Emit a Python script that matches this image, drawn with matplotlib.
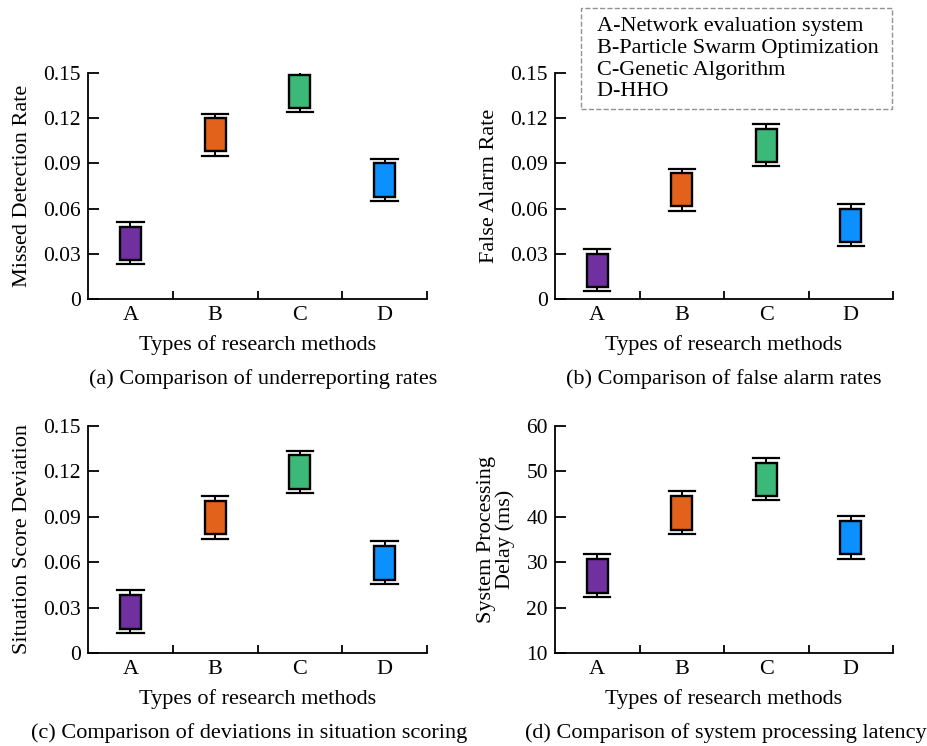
import matplotlib
matplotlib.use('Agg')
import matplotlib.pyplot as plt
from matplotlib.lines import Line2D

# =========================================================
# font
# =========================================================
plt.rcParams['font.family'] = ['Liberation Serif', 'DejaVu Serif']
plt.rcParams['axes.linewidth'] = 1.3

# =========================================================
# data
# =========================================================
methods = ['A', 'B', 'C', 'D']
colors = ['#7030A0', '#E2621B', '#3CB878', '#0A91FF']

# (a) missed detection rate
miss_lo = [0.023, 0.095, 0.124, 0.065]
miss_q1 = [0.026, 0.098, 0.127, 0.068]
miss_q3 = [0.048, 0.120, 0.149, 0.090]
miss_hi = [0.051, 0.123, 0.152, 0.093]

# (b) false alarm rate
fa_lo = [0.005, 0.0585, 0.088, 0.035]
fa_q1 = [0.008, 0.0614, 0.091, 0.038]
fa_q3 = [0.030, 0.0835, 0.113, 0.060]
fa_hi = [0.0334, 0.0866, 0.116, 0.063]

# (c) situation score deviation
dev_lo = [0.0132, 0.0754, 0.1054, 0.0459]
dev_q1 = [0.0159, 0.0785, 0.1083, 0.0485]
dev_q3 = [0.0382, 0.1006, 0.1306, 0.0708]
dev_hi = [0.0415, 0.1037, 0.1337, 0.0739]

# (d) system processing delay (ms)
lat_lo = [22.3, 36.2, 43.6, 30.7]
lat_q1 = [23.2, 37.2, 44.6, 31.7]
lat_q3 = [30.6, 44.6, 51.9, 39.1]
lat_hi = [31.7, 45.7, 52.9, 40.1]

legend_labels = ['A-Network evaluation system',
                 'B-Particle Swarm Optimization',
                 'C-Genetic Algorithm',
                 'D-HHO']

panels = [
    (miss_lo, miss_q1, miss_q3, miss_hi, 'Missed Detection Rate',
     (0, 0.15), [0, 0.03, 0.06, 0.09, 0.12, 0.15],
     '(a) Comparison of underreporting rates'),
    (fa_lo, fa_q1, fa_q3, fa_hi, 'False Alarm Rate',
     (0, 0.15), [0, 0.03, 0.06, 0.09, 0.12, 0.15],
     '(b) Comparison of false alarm rates'),
    (dev_lo, dev_q1, dev_q3, dev_hi, 'Situation Score Deviation',
     (0, 0.15), [0, 0.03, 0.06, 0.09, 0.12, 0.15],
     '(c) Comparison of deviations in situation scoring'),
    (lat_lo, lat_q1, lat_q3, lat_hi, 'System Processing\nDelay (ms)',
     (10, 60), [10, 20, 30, 40, 50, 60],
     '(d) Comparison of system processing latency'),
]

# =========================================================
# figure
# =========================================================
W, H = 927, 746
fig = plt.figure(figsize=(W / 100, H / 100), dpi=100)

# axes boxes in pixels: left, top, right, bottom
boxes = [(88, 73, 427, 299), (555, 73, 893, 299),
         (88, 426, 427, 653), (555, 426, 893, 653)]
# caption centre shift (px)
cap_shift = [6, 0, -8, 2]

positions = [0.5, 1.5, 2.5, 3.5]

for (lo, q1, q3, hi, ylab, ylim, yticks, caption), (l, t, r, b), dx in zip(panels, boxes, cap_shift):
    ax = fig.add_axes([l / W, 1 - b / H, (r - l) / W, (b - t) / H])

    stats = []
    for i in range(len(methods)):
        stats.append({'whislo': lo[i], 'q1': q1[i], 'med': q1[i],
                      'q3': q3[i], 'whishi': hi[i], 'fliers': []})

    bp = ax.bxp(stats, positions=positions, widths=0.25, capwidths=0.31,
                patch_artist=True, showfliers=False,
                boxprops=dict(linewidth=1.7, edgecolor='black'),
                whiskerprops=dict(linewidth=1.4, color='black'),
                capprops=dict(linewidth=1.6, color='black'),
                medianprops=dict(linewidth=0))
    for patch, c in zip(bp['boxes'], colors):
        patch.set_facecolor(c)

    ax.set_xlim(0, 4)
    ax.set_ylim(*ylim)
    ax.set_yticks(yticks)
    ax.set_yticklabels(['0' if v == 0 else (f'{v:.2f}' if ylim[1] < 1 else f'{v:g}') for v in yticks])

    ax.set_xticks([1, 2, 3, 4])
    ax.set_xticklabels([])
    ax.set_xticks(positions, minor=True)
    ax.set_xticklabels(methods, minor=True)
    ax.tick_params(axis='x', which='major', direction='in', length=6, width=1.3)
    ax.tick_params(axis='x', which='minor', length=0, labelsize=16, pad=5)
    ax.tick_params(axis='y', direction='in', length=8, width=1.3, labelsize=15.5, pad=5)

    ax.spines['top'].set_visible(False)
    ax.spines['right'].set_visible(False)

    ax.set_xlabel('Types of research methods', fontsize=16, labelpad=7)
    ax.set_ylabel(ylab, fontsize=16, labelpad=8, linespacing=0.95)

    fig.text(((l + r) / 2 + dx) / W, 1 - (b + 80) / H, caption,
             ha='center', va='center', fontsize=16)

# =========================================================
# legend (text only, dashed frame)
# =========================================================
handles = [Line2D([], [], linestyle='none') for _ in legend_labels]
leg = fig.legend(handles, [s + ' ' for s in legend_labels], loc='upper left',
                 bbox_to_anchor=(581 / W, 1 - 8 / H),
                 handlelength=0, handletextpad=0.36, fontsize=16,
                 labelspacing=0.05, borderpad=0.35, borderaxespad=0,
                 fancybox=False)
frame = leg.get_frame()
frame.set_linestyle('--')
frame.set_edgecolor('#777777')
frame.set_linewidth(1.0)

plt.savefig('out.png', dpi=100)
